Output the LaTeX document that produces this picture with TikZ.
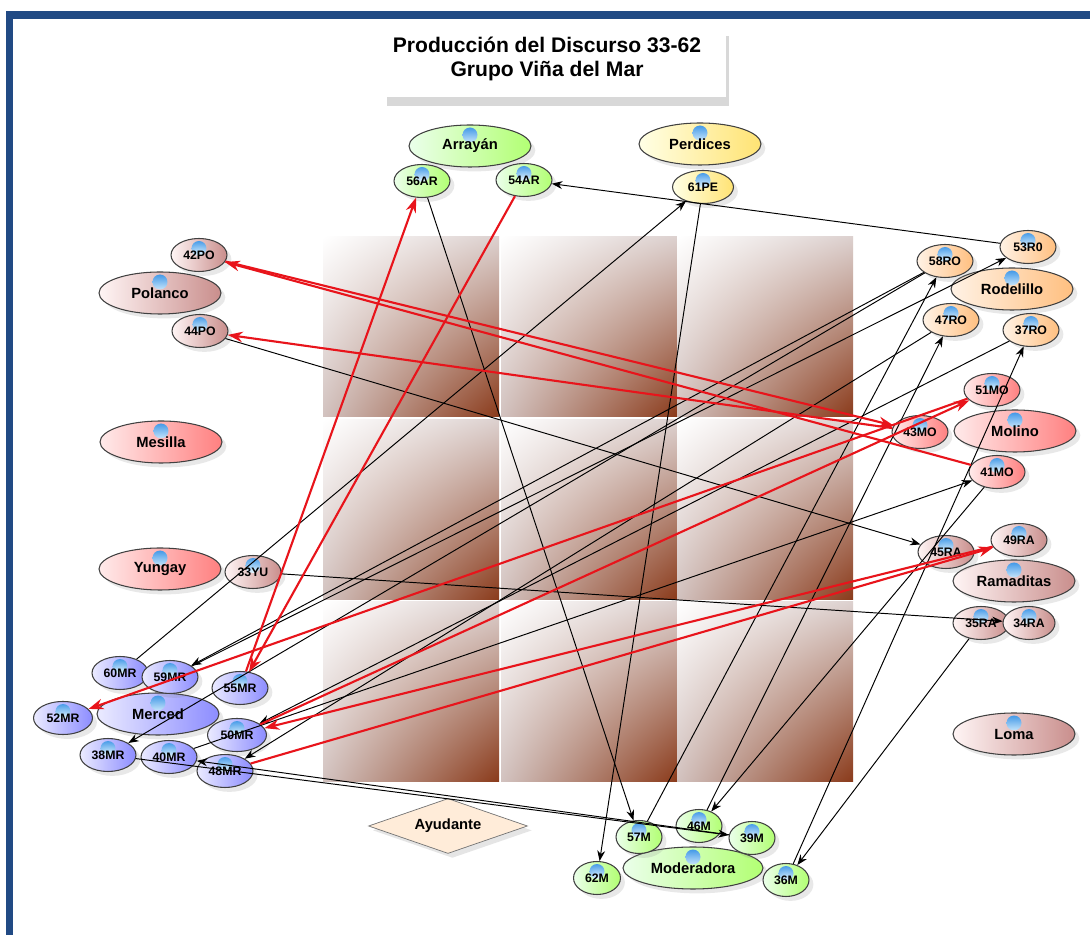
\documentclass[tikz,border=0pt]{standalone}
\usepackage{fontspec}
\setmainfont{Liberation Sans}
\usetikzlibrary{shapes.geometric,arrows.meta,shadows,shadings}
\definecolor{frameblue}{HTML}{214A84}
\definecolor{globein}{HTML}{E4F6FF}
\definecolor{globeout}{HTML}{2F8DE4}
\definecolor{sqtr}{HTML}{DCD0CE}
\definecolor{sqbl}{HTML}{D2C2BF}
\definecolor{sqbr}{HTML}{8A3A1A}
\definecolor{linered}{HTML}{E8141B}
\definecolor{rosyright}{HTML}{C98E8C}
\tikzstyle{bubble}=[ellipse, draw=black!75, line width=0.6pt, inner sep=0pt,
 font=\fontsize{7}{8}\selectfont\bfseries,
 drop shadow={opacity=0.18, shadow xshift=2.5pt, shadow yshift=-2.5pt},
 path picture={\shade[inner color=globein, outer color=globeout]
  ([yshift=-0.2cm]path picture bounding box.north) circle (0.15cm);}]
\tikzstyle{smallbub}=[bubble, minimum width=1.12cm, minimum height=0.66cm]
\tikzstyle{bigbub}=[bubble, minimum width=2.44cm, minimum height=0.84cm,
 font=\fontsize{8.4}{9}\selectfont\bfseries]
\tikzstyle{grn}=[left color=green!8, right color=green!40!lime!55]
\tikzstyle{yel}=[left color=yellow!10, right color=orange!40!yellow!55]
\tikzstyle{ros}=[left color=red!4, right color=rosyright]
\tikzstyle{org}=[left color=orange!10, right color=orange!50]
\tikzstyle{pnk}=[left color=red!8, right color=red!50]
\tikzstyle{blu}=[left color=blue!8, right color=blue!45]
\tikzstyle{titlebox}=[rectangle, fill=white, minimum width=6.84cm, minimum height=1.4cm,
 drop shadow={opacity=0.3, shadow xshift=1.5pt, shadow yshift=-5pt}]
\tikzstyle{helper}=[diamond, aspect=2.9, inner sep=0pt, draw=black!55, fill=orange!15,
 minimum width=3.18cm, minimum height=1.1cm, font=\fontsize{8.4}{9}\selectfont\bfseries,
 drop shadow={opacity=0.2, shadow xshift=2.5pt, shadow yshift=-2.5pt}]
\tikzstyle{bline}=[-{Stealth[length=6pt,width=4.5pt]}, line width=0.55pt, black]
\tikzstyle{rline}=[-{Stealth[length=8.5pt,width=6pt]}, line width=1.2pt, linered]

\begin{document}
\begin{tikzpicture}[x=0.02cm, y=-0.02cm]
\useasboundingbox (0,0) rectangle (1090,935);
\fill[white] (0,0) rectangle (1090,935);
\fill[frameblue] (6,11) rectangle (1090,19);
\fill[frameblue] (6,11) rectangle (13,935);

\foreach \cx in {323,501,677}{
 \foreach \cy in {237,420,602}{
  \shade[upper left=white, upper right=sqtr, lower left=sqbl, lower right=sqbr]
   (\cx,\cy) rectangle ++(176,180);
 }}

\node (TBOX) [titlebox] at (555,62) {};
\node (TITLE) [align=center, font=\fontsize{12}{13.7}\selectfont\bfseries] at (547,59)
 {Producción del Discurso 33-62\\Grupo Viña del Mar};

\node (ARRAYAN) [bigbub, grn] at (470,146) {Arrayán};
\node (PERDICES) [bigbub, yel] at (700,144) {Perdices};
\node (POLANCO) [bigbub, ros] at (160,293) {Polanco};
\node (MESILLA) [bigbub, pnk] at (161,442) {Mesilla};
\node (YUNGAY) [bigbub, pnk] at (160,569) {Yungay};
\node (RODELILLO) [bigbub, org] at (1012,289) {Rodelillo};
\node (MOLINO) [bigbub, pnk] at (1015,431) {Molino};
\node (RAMADITAS) [bigbub, ros] at (1014,581) {Ramaditas};
\node (LOMA) [bigbub, ros] at (1014,734) {Loma};
\node (MERCED) [bigbub, blu] at (158,714) {Merced};
\node (MODERADORA) [bigbub, grn, minimum width=2.8cm] at (693,868) {Moderadora};
\node (AYUDANTE) [helper] at (448,826) {Ayudante};

\node (N56AR) [smallbub, grn] at (422,181) {56AR};
\node (N54AR) [smallbub, grn] at (524,180) {54AR};
\node (N61PE) [smallbub, yel, minimum width=1.22cm] at (703,187) {61PE};
\node (N42PO) [smallbub, ros] at (199,255) {42PO};
\node (N44PO) [smallbub, ros] at (200,331) {44PO};
\node (N33YU) [smallbub, ros] at (253,572) {33YU};
\node (N58RO) [smallbub, org] at (945,261) {58RO};
\node (N53RO) [smallbub, org] at (1028,247) {53R0};
\node (N47RO) [smallbub, org] at (951,320) {47RO};
\node (N37RO) [smallbub, org] at (1031,330) {37RO};
\node (N51MO) [smallbub, pnk] at (992,390) {51MO};
\node (N43MO) [smallbub, pnk] at (920,432) {43MO};
\node (N41MO) [smallbub, pnk] at (997,472) {41MO};
\node (N45RA) [smallbub, ros] at (946,552) {45RA};
\node (N49RA) [smallbub, ros] at (1019,540) {49RA};
\node (N35RA) [smallbub, ros] at (981,623) {35RA};
\node (N34RA) [smallbub, ros, minimum width=1.04cm] at (1029,623) {34RA};
\node (N60MR) [smallbub, blu] at (120,673) {60MR};
\node (N59MR) [smallbub, blu] at (170,677) {59MR};
\node (N55MR) [smallbub, blu] at (240,688) {55MR};
\node (N52MR) [smallbub, blu, minimum width=1.18cm] at (63,718) {52MR};
\node (N50MR) [smallbub, blu, minimum width=1.18cm] at (237,735) {50MR};
\node (N38MR) [smallbub, blu] at (108,755) {38MR};
\node (N40MR) [smallbub, blu] at (169,757) {40MR};
\node (N48MR) [smallbub, blu] at (225,771) {48MR};
\node (N57M) [smallbub, grn, minimum width=0.92cm] at (639,837) {57M};
\node (N46M) [smallbub, grn, minimum width=0.92cm] at (699,826) {46M};
\node (N39M) [smallbub, grn, minimum width=0.92cm] at (752,838) {39M};
\node (N62M) [smallbub, grn, minimum width=0.94cm] at (597,878) {62M};
\node (N36M) [smallbub, grn, minimum width=0.92cm] at (786,880) {36M};

\draw[bline] (N56AR) -- (N57M);
\draw[bline] (N53RO) -- (N54AR);
\draw[bline] (N60MR) -- (N61PE);
\draw[bline] (N61PE) -- (N62M);
\draw[bline] (N57M) -- (N58RO);
\draw[bline] (N58RO) -- (N59MR);
\draw[bline] (N59MR) -- (N53RO);
\draw[bline] (N44PO) -- (N45RA);
\draw[bline] (N33YU) -- (N34RA);
\draw[bline] (N35RA) -- (N36M);
\draw[bline] (N36M) -- (N37RO);
\draw[bline] (N46M) -- (N47RO);
\draw[bline] (N40MR) -- (N41MO);
\draw[bline] (N37RO) -- (N50MR);
\draw[bline] (N47RO) -- (N48MR);
\draw[bline] (N58RO) -- (N38MR);
\draw[bline] (N41MO) -- (N46M);
\draw[bline] (N38MR) -- (N39M);
\draw[bline] (N39M) -- (N40MR);

\draw[rline] (N55MR) -- (N56AR);
\draw[rline] (N54AR) -- (N55MR);
\draw[rline] (N41MO) -- (N42PO);
\draw[rline] (N42PO) -- (N43MO);
\draw[rline] (N43MO) -- (N44PO);
\draw[rline] (N51MO) -- (N52MR);
\draw[rline] (N50MR) -- (N51MO);
\draw[rline] (N49RA) -- (N50MR);
\draw[rline] (N48MR) -- (N49RA);
\end{tikzpicture}
\end{document}
